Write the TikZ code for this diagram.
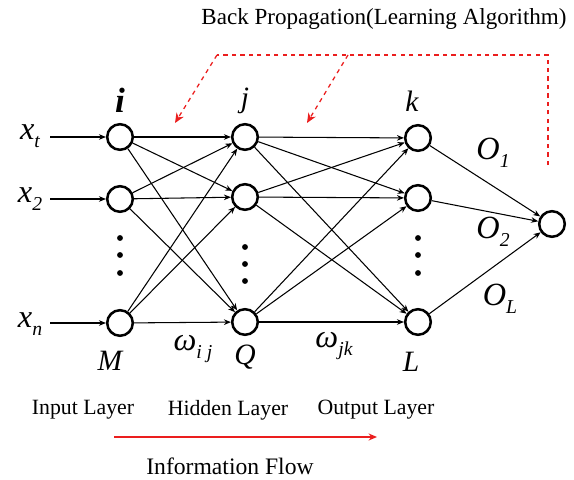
\documentclass[tikz,border=0pt]{standalone}
\usepackage{fontspec}
\setmainfont{Liberation Serif}
\usepackage{tikz}
\usetikzlibrary{arrows.meta, positioning, calc}
\definecolor{bpred}{RGB}{235,30,30}
\newcommand{\lowsub}[1]{\raisebox{-0.55ex}{\fontsize{14}{14}\selectfont\itshape #1}}

\begin{document}
\begin{tikzpicture}[
    x=0.025cm, y=-0.025cm,
    neuron/.style = {circle, draw, line width=1.8pt, minimum size=0.64cm, inner sep=0pt},
    conn/.style = {-{Stealth[length=5pt,width=4pt]}, line width=0.75pt},
    bparr/.style = {-{Stealth[length=7pt,width=6pt]}, bpred, dashed, line width=0.9pt},
    flowarr/.style = {-{Stealth[length=6pt,width=5pt]}, bpred, line width=0.9pt},
    var/.style = {font=\fontsize{23}{25}\selectfont\itshape, inner sep=1pt},
    idx/.style = {font=\fontsize{21}{23}\selectfont\itshape, inner sep=1pt},
    layer/.style = {font=\fontsize{15.5}{17}\selectfont, inner sep=1pt},
    vdot/.style = {circle, fill, inner sep=0pt, minimum size=4.2pt},
  ]
    \useasboundingbox (0,0) rectangle (574,480);

    % Input layer
    \node[neuron] (i1) at (120,137) {};
    \node[neuron] (i2) at (120,199) {};
    \node[neuron] (iN) at (120,323) {};
    % Hidden layer
    \node[neuron] (h1) at (245,137) {};
    \node[neuron] (h2) at (245,197) {};
    \node[neuron] (hN) at (245,322) {};
    % Output layer
    \node[neuron] (o1) at (418,138) {};
    \node[neuron] (o2) at (418,198) {};
    \node[neuron] (oN) at (418,322) {};
    % Final node
    \node[neuron] (out) at (552,224) {};

    % Dots
    \foreach \yy in {238,255,273} {
      \node[vdot] at (120,\yy) {};
      \node[vdot] at (418,\yy) {};
    }
    \foreach \yy in {247,264,281}
      \node[vdot] at (245,\yy) {};

    % Inputs
    \node[var] (xt) at (30,136) {x\lowsub{t}};
    \node[var] (x2) at (30,199) {x\lowsub{2}};
    \node[var] (xn) at (30,324) {x\lowsub{n}};
    \coordinate (xtS) at (50,137);
    \coordinate (x2S) at (50,199);
    \coordinate (xnS) at (50,323);
    \draw[conn] (xtS) -- (i1);
    \draw[conn] (x2S) -- (i2);
    \draw[conn] (xnS) -- (iN);

    % Connections
    \foreach \a in {i1,i2,iN}
      \foreach \b in {h1,h2,hN}
        \draw[conn] (\a) -- (\b);
    \foreach \a in {h1,h2,hN}
      \foreach \b in {o1,o2,oN}
        \draw[conn] (\a) -- (\b);
    \foreach \a in {o1,o2,oN}
      \draw[conn] (\a) -- (out);

    % Node labels
    \node[idx, font=\fontsize{25}{27}\selectfont\bfseries\itshape] at (120,100) {i};
    \node[idx] at (245,101) {j};
    \node[idx] at (412,101) {k};
    \node[idx] at (110,361) {M};
    \node[idx] at (245,357) {Q};
    \node[idx] at (411,362) {L};
    \node[var] at (193,349) {ω\lowsub{i j}};
    \node[var] at (334,346) {ω\lowsub{jk}};
    \node[var] at (493,153) {O\lowsub{1}};
    \node[var] at (493,232) {O\lowsub{2}};
    \node[var] at (500,299) {O\lowsub{L}};

    % Back propagation
    \node[layer, font=\fontsize{16.4}{18}\selectfont] (bp) at (384,19) {Back Propagation(Learning Algorithm)};
    \coordinate (bpA) at (217,55);
    \coordinate (bpB) at (348,55);
    \coordinate (bpC) at (548,55);
    \coordinate (bpD) at (548,165);
    \coordinate (bpT1) at (175,123);
    \coordinate (bpT2) at (307,123);
    \draw[bpred, dashed, line width=0.9pt] (bpD) -- (bpC) -- (bpA);
    \draw[bparr] (bpA) -- (bpT1);
    \draw[bparr] (bpB) -- (bpT2);

    % Layer names
    \node[layer] (inl)  at (83,410)  {Input Layer};
    \node[layer] (hidl) at (228,410) {Hidden Layer};
    \node[layer] (outl) at (376,410) {Output Layer};
    \coordinate (flS) at (114,437);
    \coordinate (flE) at (377,437);
    \draw[flowarr] (flS) -- (flE);
    \node[layer, font=\fontsize{16.8}{18}\selectfont] (flow) at (230,466) {Information Flow};
\end{tikzpicture}
\end{document}
